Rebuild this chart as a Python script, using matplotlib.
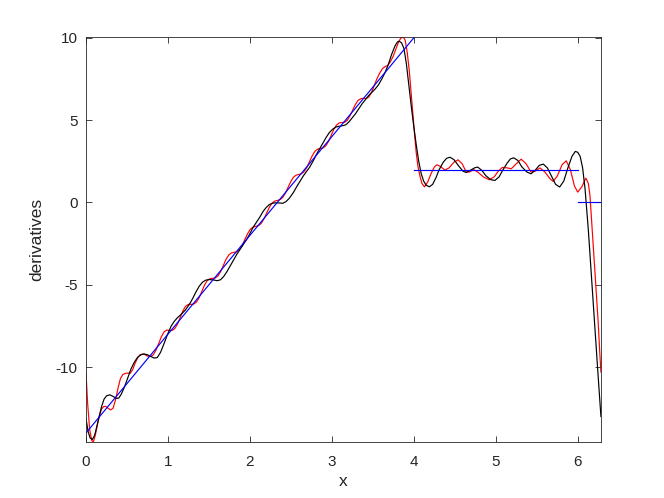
import matplotlib
matplotlib.use("Agg")
import numpy as np
import matplotlib.pyplot as plt

plt.rcParams['font.family'] = ['Liberation Sans', 'DejaVu Sans']
plt.rcParams['axes.unicode_minus'] = False

# exact piecewise function (blue)
blue_x1 = [0.0, 4.0]
blue_y1 = [-14.0, 10.0]
blue_x2 = [4.0, 6.0]
blue_y2 = [2.0, 2.0]
blue_x3 = [6.0, 2 * np.pi]
blue_y3 = [0.0, 0.0]

# red approximation
red_x = [0.0, 0.02, 0.045, 0.07, 0.09, 0.115, 0.14, 0.165, 0.19, 0.215, 0.24, 0.27, 0.30, 0.33,
         0.36, 0.39, 0.42, 0.45, 0.48, 0.51, 0.54, 0.57, 0.60, 0.63, 0.66, 0.70, 0.73,
         0.756, 0.789, 0.822, 0.855, 0.888, 0.920, 0.953, 0.986,
         1.019, 1.052, 1.085, 1.118, 1.150, 1.183, 1.216, 1.249,
         1.282, 1.315, 1.348, 1.381, 1.413, 1.446, 1.479, 1.512,
         1.545, 1.578, 1.611, 1.644, 1.676, 1.709, 1.742, 1.775,
         1.808, 1.841, 1.874, 1.907, 1.939, 1.972, 2.005, 2.038,
         2.071, 2.104, 2.137, 2.170, 2.202, 2.235, 2.268, 2.301,
         2.334, 2.367, 2.400, 2.433, 2.465, 2.498, 2.531, 2.564,
         2.597, 2.630, 2.663, 2.696, 2.728, 2.761, 2.794, 2.827,
         2.860, 2.893, 2.926, 2.959, 2.991, 3.024, 3.057, 3.090,
         3.123, 3.156, 3.189, 3.222, 3.254, 3.287, 3.320, 3.353,
         3.386, 3.419, 3.452, 3.485, 3.517, 3.550, 3.583, 3.616,
         3.649, 3.682, 3.715, 3.75, 3.78, 3.81, 3.84, 3.87, 3.895, 3.92, 3.945, 3.97,
         3.99, 4.01, 4.03, 4.05, 4.08, 4.10, 4.13, 4.17, 4.21, 4.25, 4.28, 4.32, 4.38,
         4.43, 4.49, 4.54, 4.59, 4.64, 4.68, 4.73, 4.78, 4.85, 4.92, 4.98, 5.03, 5.08,
         5.14, 5.19, 5.25, 5.31, 5.37, 5.43, 5.48, 5.54, 5.60, 5.66, 5.70, 5.75, 5.81,
         5.86, 5.91, 5.96, 6.00, 6.05, 6.10, 6.13, 6.15, 6.17, 6.21, 6.25, 6.27, 6.2832]
red_y = [-10.3, -12.2, -13.8, -14.45, -14.55, -14.1, -13.5, -12.95, -12.55, -12.4, -12.38, -12.5, -12.6, -12.5,
         -12.0, -11.3, -10.7, -10.45, -10.38, -10.36, -10.38, -10.15, -9.75, -9.45, -9.25, -9.2, -9.27,
         -9.34, -9.36, -9.25, -8.96, -8.56, -8.15, -7.86, -7.75,
         -7.77, -7.77, -7.65, -7.37, -6.98, -6.58, -6.30, -6.19,
         -6.19, -6.17, -6.05, -5.78, -5.40, -5.02, -4.75, -4.63,
         -4.61, -4.58, -4.46, -4.19, -3.82, -3.45, -3.19, -3.06,
         -3.03, -2.99, -2.86, -2.59, -2.24, -1.90, -1.63, -1.50,
         -1.45, -1.41, -1.28, -1.01, -0.67, -0.32, -0.05, 0.08,
         0.12, 0.17, 0.30, 0.57, 0.91, 1.26, 1.53, 1.66,
         1.70, 1.75, 1.88, 2.14, 2.49, 2.84, 3.11, 3.24,
         3.28, 3.31, 3.44, 3.70, 4.07, 4.44, 4.70, 4.83,
         4.86, 4.87, 4.99, 5.27, 5.60, 5.95, 6.20, 6.30,
         6.33, 6.31, 6.41, 6.70, 7.10, 7.51, 7.85, 8.12,
         8.25, 8.32, 8.55, 8.9, 9.3, 9.7, 9.98, 10.05, 9.85, 9.1, 8.0, 6.5,
         5.3, 4.1, 3.0, 2.2, 1.5, 1.15, 0.95, 1.25, 1.75, 2.15, 2.29, 2.2, 1.97,
         2.1, 2.45, 2.59, 2.35, 1.85, 1.85, 2.0, 1.85, 1.55, 1.38, 1.55, 1.9, 2.13,
         2.1, 2.05, 2.35, 2.63, 2.35, 1.85, 1.9, 2.1, 1.85, 1.45, 1.28, 1.6, 2.3,
         2.53, 2.0, 1.0, 0.63, 0.95, 1.48, 1.15, 0.4, -1.1, -4.2, -7.3, -9.2, -10.3]

# black approximation
black_x = [0.0, 0.025, 0.05, 0.077, 0.105, 0.13, 0.16, 0.19, 0.22, 0.25, 0.29, 0.33, 0.37, 0.40,
           0.43, 0.47, 0.51, 0.55, 0.59, 0.63, 0.67, 0.71, 0.75, 0.79, 0.83, 0.87, 0.91, 0.95,
           1.00, 1.04, 1.08, 1.12, 1.16, 1.21, 1.26, 1.30, 1.34, 1.38, 1.42, 1.46, 1.50, 1.55,
           1.60, 1.64, 1.68, 1.72, 1.76, 1.80, 1.84, 1.88, 1.92, 1.96, 2.00, 2.04, 2.08, 2.12,
           2.16, 2.20, 2.24, 2.28, 2.32, 2.36, 2.40, 2.44, 2.48, 2.53, 2.57, 2.61, 2.65, 2.69,
           2.73, 2.77, 2.81, 2.85, 2.89, 2.93, 2.97, 3.01, 3.05, 3.09, 3.13, 3.17, 3.21, 3.25,
           3.29, 3.33, 3.37, 3.41, 3.45, 3.49, 3.53, 3.57, 3.61, 3.65, 3.69, 3.73, 3.77, 3.80,
           3.82, 3.85, 3.88, 3.91, 3.94, 3.97, 4.00, 4.03, 4.06, 4.09, 4.12, 4.15, 4.19, 4.23,
           4.27, 4.31, 4.36, 4.40, 4.44, 4.49, 4.55, 4.60, 4.64, 4.69, 4.74, 4.78, 4.83, 4.88,
           4.94, 4.99, 5.04, 5.09, 5.14, 5.18, 5.22, 5.27, 5.32, 5.38, 5.43, 5.48, 5.53, 5.58,
           5.63, 5.68, 5.73, 5.78, 5.83, 5.88, 5.93, 5.97, 6.00, 6.03, 6.06, 6.09, 6.13, 6.17,
           6.21, 6.25, 6.2832]
black_y = [-13.1, -13.9, -14.3, -14.4, -14.15, -13.65, -13.0, -12.4, -11.95, -11.75, -11.68, -11.78, -11.9, -11.88,
           -11.65, -11.2, -10.65, -10.1, -9.7, -9.4, -9.25, -9.2, -9.25, -9.35, -9.45, -9.42, -9.1, -8.6,
           -7.95, -7.5, -7.2, -6.98, -6.8, -6.55, -6.2, -5.85, -5.45, -5.1, -4.85, -4.72, -4.68, -4.7,
           -4.75, -4.7, -4.5, -4.2, -3.85, -3.5, -3.15, -2.85, -2.55, -2.25, -1.9, -1.5, -1.2, -0.9,
           -0.55, -0.3, -0.12, -0.04, -0.02, -0.03, -0.05, 0.05, 0.25, 0.6, 0.95, 1.27, 1.6, 1.88,
           2.15, 2.5, 2.9, 3.25, 3.6, 3.95, 4.25, 4.45, 4.58, 4.63, 4.66, 4.72, 4.9, 5.15,
           5.4, 5.7, 6.0, 6.25, 6.5, 6.7, 6.9, 7.15, 7.5, 7.9, 8.4, 9.0, 9.5, 9.75,
           9.8, 9.7, 9.35, 8.4, 7.1, 5.8, 4.6, 3.5, 2.5, 1.75, 1.3, 1.05, 0.95, 1.1,
           1.5, 2.0, 2.45, 2.68, 2.75, 2.6, 2.2, 1.9, 1.82, 1.95, 2.1, 2.15, 1.95, 1.62,
           1.38, 1.34, 1.55, 2.0, 2.4, 2.65, 2.71, 2.55, 2.15, 1.85, 1.74, 1.95, 2.25, 2.33,
           2.1, 1.6, 1.1, 0.94, 1.3, 2.1, 2.8, 3.1, 3.05, 2.8, 2.1, 0.8, -1.7, -4.7,
           -7.7, -10.6, -13.0]

fig = plt.figure(figsize=(6.64, 4.98), dpi=100)
ax = fig.add_axes([0.1295, 0.1124, 0.7755, 0.8133])

ax.plot(red_x, red_y, color="#ff0000", linewidth=0.85)
ax.plot(black_x, black_y, color="black", linewidth=0.85)
ax.plot(blue_x1, blue_y1, color="#0000ff", linewidth=0.85)
ax.plot(blue_x2, blue_y2, color="#0000ff", linewidth=0.85)
ax.plot(blue_x3, blue_y3, color="#0000ff", linewidth=0.85)

ax.set_xlim(0, 2 * np.pi)
ax.set_ylim(min(red_y + black_y), max(red_y + black_y))
ax.set_xticks(range(0, 7))
ax.set_yticks([-10, -5, 0, 5, 10])

ax.tick_params(direction="in", top=True, right=True, length=4, width=0.6,
               labelsize=11, colors="#262626")
ax.tick_params(axis="x", pad=9)
ax.tick_params(axis="y", pad=6)
for s in ax.spines.values():
    s.set_linewidth(0.6)
    s.set_color("#262626")

ax.set_xlabel("x", fontsize=12.5, color="#262626", labelpad=4)
ax.set_ylabel("derivatives", fontsize=12.5, color="#262626", labelpad=8)

fig.savefig("out.png", dpi=100)
